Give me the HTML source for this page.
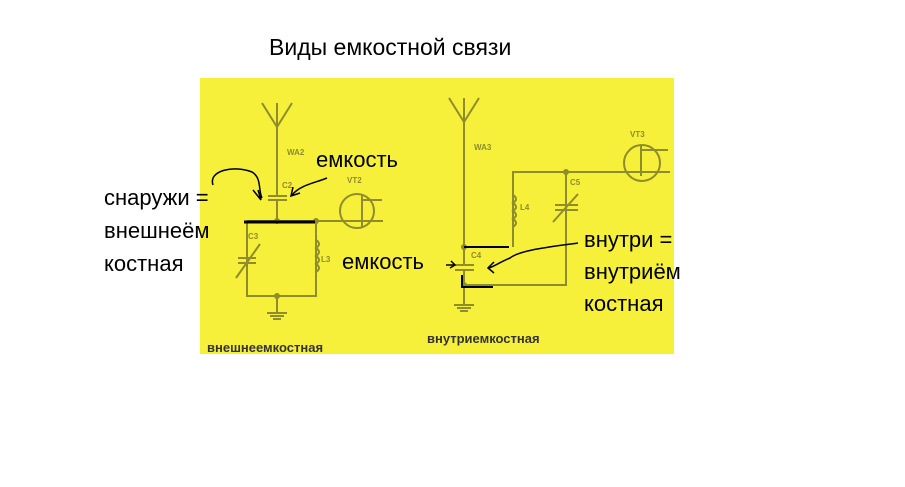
<!DOCTYPE html>
<html><head><meta charset="utf-8"><style>
body{margin:0;width:905px;height:487px;background:#fff;overflow:hidden;position:relative;font-family:"Liberation Sans",sans-serif}
.t{position:absolute;font-size:22px;color:#000;line-height:1;white-space:nowrap}
</style></head><body>
<div class="t" style="left:269px;top:36px;font-size:23px">Виды емкостной связи</div>
<svg width="905" height="487" style="position:absolute;left:0;top:0">
<rect x="200" y="78" width="474" height="276" fill="#f6f03a"/>
<g stroke="#8f8c2c" stroke-width="2" fill="none">
<path d="M262 103 L277 127 L292 103 M277 103 V196 M268 196 H287 M268 200 H287 M277 200 V221 M247 221 H383 M247 221 V296 H316 V221"/>
<path d="M238 258 H256 M238 263 H256 M236 278 L260 244"/>
<path d="M316 240 q6 4 0 8 q6 4 0 8 q6 4 0 8 q6 4 0 8"/>
<path d="M277 296 V313 M267 313 H287 M270 316 H284 M273 319 H281"/>
<circle cx="357" cy="211" r="17"/>
<path d="M362 195 V227 M362 200 H382"/>
</g>
<g fill="#8f8c2c"><circle cx="277" cy="221" r="3"/><circle cx="316" cy="221" r="3"/><circle cx="277" cy="296" r="3"/></g>
<g stroke="#8f8c2c" stroke-width="2" fill="none">
<path d="M449 98 L464 122 L479 98 M464 98 V265 M455 265 H474 M455 270 H474 M464 270 V305 M454 305 H474 M457 308 H471 M460 311 H468"/>
<path d="M513 247 V172 H670 M566 172 V285 H466"/>
<path d="M513 195 q6 4 0 8 q6 4 0 8 q6 4 0 8 q6 4 0 8"/>
<path d="M555 205 H578 M555 210 H578 M553 222 L578 194"/>
<circle cx="642" cy="163" r="18"/>
<path d="M641 146 V176 M641 150 H668"/>
</g>
<g fill="#8f8c2c"><circle cx="464" cy="247" r="3"/><circle cx="566" cy="172" r="3"/><circle cx="464" cy="285" r="3"/></g>
<g font-family="Liberation Sans,sans-serif" font-size="8" fill="#8f8c2c" font-weight="bold">
<text x="287" y="155">WA2</text><text x="282" y="188">C2</text><text x="347" y="183">VT2</text><text x="248" y="239">C3</text><text x="321" y="262">L3</text>
<text x="474" y="150">WA3</text><text x="570" y="185">C5</text><text x="520" y="210">L4</text><text x="471" y="258">C4</text><text x="630" y="137">VT3</text>
</g>
<g font-family="Liberation Sans,sans-serif" font-size="13" font-weight="bold" fill="#333">
<text x="207" y="352">внешнеемкостная</text>
<text x="427" y="343">внутриемкостная</text>
</g>
<g stroke="#000" fill="none" stroke-width="1.5">
<path d="M244 222 H315" stroke-width="3"/>
<path d="M213 185 C208 170 235 165 252 172 C262 178 258 190 262 198 M253 190 L261 200 L258 190"/>
<path d="M327 178 C315 183 300 185 292 195 M293 187 L291 196 L300 193"/>
<path d="M464 247 H509 M462 275 V287 H493" stroke-width="2"/>
<path d="M446 265 H455 M451 261 L455 265 L450 268"/>
<path d="M578 243 C550 247 520 250 510 258 C500 262 495 266 489 268 M494 262 L488 268 L494 273"/>
</g>
</svg>
<div class="t" style="left:316px;top:149px">емкость</div>
<div class="t" style="left:104px;top:181px;line-height:33px">снаружи =<br>внешнеём<br>костная</div>
<div class="t" style="left:342px;top:251px">емкость</div>
<div class="t" style="left:584px;top:224px;line-height:32px">внутри =<br>внутриём<br>костная</div>
</body></html>
